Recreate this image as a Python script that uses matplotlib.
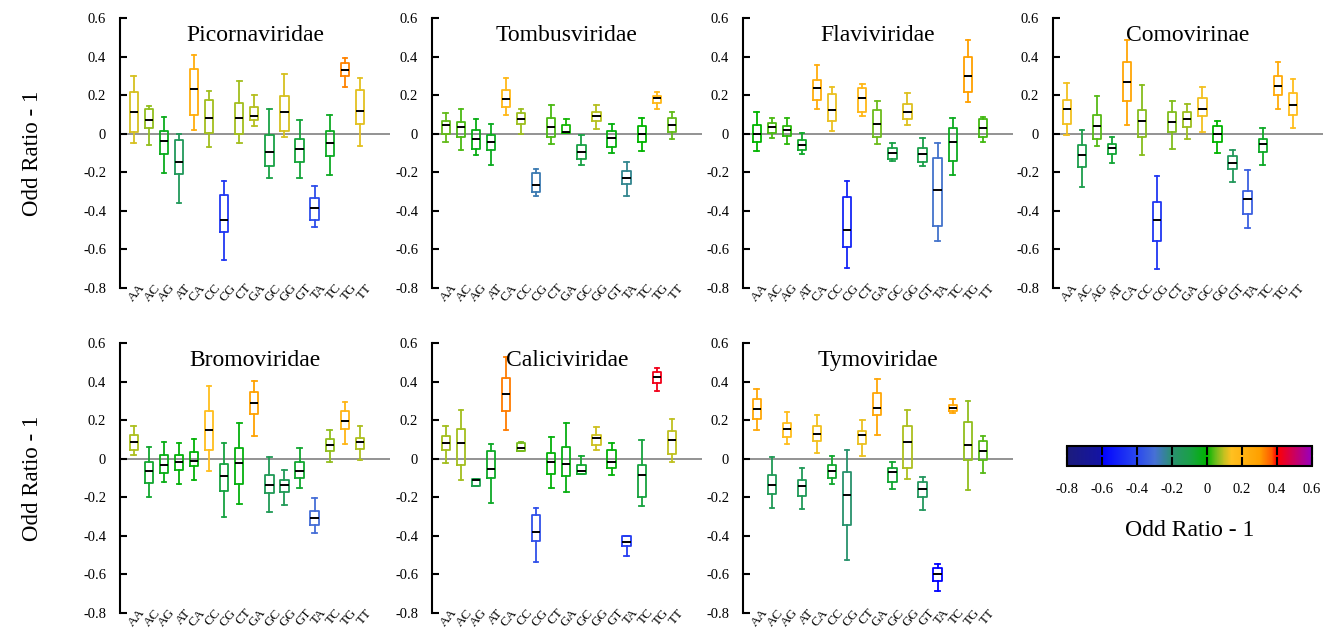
#!/usr/bin/env python3
"""Dinucleotide odd ratio box plots per virus family."""

import matplotlib
matplotlib.use("Agg")
import matplotlib.pyplot as plt
from matplotlib.colors import LinearSegmentedColormap, Normalize
from matplotlib.cm import ScalarMappable
from matplotlib.transforms import ScaledTranslation


DINUC = ["AA", "AC", "AG", "AT", "CA", "CC", "CG", "CT",
         "GA", "GC", "GG", "GT", "TA", "TC", "TG", "TT"]
YTICKS = [-0.8, -0.6, -0.4, -0.2, 0, 0.2, 0.4, 0.6]
YTICKLABELS = ["-0.8", "-0.6", "-0.4", "-0.2", "0", "0.2", "0.4", "0.6"]
CBAR_TICKS = [-0.8, -0.6, -0.4, -0.2, 0, 0.2, 0.4, 0.6]

# (whisker low, q1, median, q3, whisker high) per dinucleotide
PICORNAVIRIDAE = [
    (-0.05, 0.01, 0.11, 0.215, 0.30), (-0.06, 0.03, 0.07, 0.13, 0.145),
    (-0.205, -0.105, -0.04, 0.015, 0.085), (-0.36, -0.21, -0.145, -0.035, 0.0),
    (0.02, 0.095, 0.23, 0.335, 0.41), (-0.07, 0.005, 0.08, 0.175, 0.22),
    (-0.655, -0.51, -0.445, -0.32, -0.245), (-0.05, 0.0, 0.08, 0.16, 0.275),
    (0.04, 0.07, 0.09, 0.14, 0.20), (-0.23, -0.165, -0.095, -0.005, 0.13),
    (-0.015, 0.015, 0.11, 0.195, 0.31), (-0.23, -0.145, -0.08, -0.03, 0.07),
    (-0.485, -0.445, -0.385, -0.335, -0.27), (-0.215, -0.115, -0.05, 0.015, 0.095),
    (0.24, 0.30, 0.33, 0.365, 0.39), (-0.065, 0.05, 0.12, 0.225, 0.29),
]
TOMBUSVIRIDAE = [
    (-0.045, 0.0, 0.045, 0.065, 0.105), (-0.085, -0.015, 0.035, 0.06, 0.13),
    (-0.11, -0.08, -0.03, 0.02, 0.075), (-0.16, -0.085, -0.045, -0.005, 0.05),
    (0.095, 0.14, 0.18, 0.225, 0.29), (0.0, 0.05, 0.075, 0.105, 0.13),
    (-0.325, -0.30, -0.265, -0.205, -0.185), (-0.055, -0.015, 0.035, 0.08, 0.15),
    (0.005, 0.005, 0.01, 0.045, 0.075), (-0.16, -0.13, -0.095, -0.06, -0.005),
    (0.025, 0.065, 0.09, 0.11, 0.15), (-0.10, -0.07, -0.02, 0.015, 0.05),
    (-0.325, -0.26, -0.23, -0.195, -0.145), (-0.09, -0.045, 0.0, 0.04, 0.08),
    (0.13, 0.16, 0.185, 0.195, 0.215), (-0.03, 0.01, 0.045, 0.08, 0.115),
]
FLAVIVIRIDAE = [
    (-0.09, -0.045, 0.0, 0.045, 0.115), (-0.02, 0.005, 0.035, 0.055, 0.08),
    (-0.055, -0.01, 0.02, 0.04, 0.08), (-0.105, -0.085, -0.06, -0.035, 0.005),
    (0.13, 0.175, 0.235, 0.28, 0.355), (0.015, 0.065, 0.125, 0.205, 0.24),
    (-0.695, -0.59, -0.50, -0.33, -0.245), (0.09, 0.115, 0.185, 0.235, 0.26),
    (-0.055, -0.015, 0.05, 0.125, 0.17), (-0.14, -0.13, -0.10, -0.075, -0.05),
    (0.045, 0.075, 0.115, 0.155, 0.21), (-0.17, -0.145, -0.105, -0.075, -0.02),
    (-0.555, -0.48, -0.29, -0.125, -0.05), (-0.215, -0.14, -0.045, 0.03, 0.08),
    (0.165, 0.215, 0.30, 0.40, 0.485), (-0.045, -0.015, 0.03, 0.075, 0.085),
]
COMOVIRINAE = [
    (-0.005, 0.05, 0.13, 0.175, 0.265), (-0.275, -0.175, -0.11, -0.06, 0.02),
    (-0.065, -0.03, 0.04, 0.095, 0.195), (-0.15, -0.105, -0.075, -0.055, -0.015),
    (0.045, 0.17, 0.27, 0.37, 0.485), (-0.11, -0.015, 0.065, 0.125, 0.255),
    (-0.70, -0.555, -0.45, -0.355, -0.22), (-0.08, 0.01, 0.06, 0.115, 0.17),
    (-0.025, 0.035, 0.075, 0.11, 0.155), (0.01, 0.09, 0.13, 0.185, 0.24),
    (-0.10, -0.045, 0.0, 0.04, 0.065), (-0.25, -0.185, -0.15, -0.115, -0.085),
    (-0.49, -0.415, -0.34, -0.295, -0.19), (-0.16, -0.095, -0.055, -0.025, 0.03),
    (0.13, 0.20, 0.245, 0.30, 0.37), (0.03, 0.095, 0.15, 0.21, 0.285),
]
BROMOVIRIDAE = [
    (0.02, 0.045, 0.085, 0.125, 0.17), (-0.20, -0.125, -0.065, -0.015, 0.06),
    (-0.12, -0.075, -0.03, 0.02, 0.085), (-0.13, -0.06, -0.015, 0.02, 0.08),
    (-0.11, -0.04, -0.01, 0.035, 0.10), (-0.065, 0.045, 0.15, 0.245, 0.375),
    (-0.30, -0.165, -0.09, -0.025, 0.08), (-0.235, -0.13, -0.02, 0.055, 0.185),
    (0.12, 0.23, 0.29, 0.345, 0.405), (-0.275, -0.18, -0.135, -0.085, 0.01),
    (-0.24, -0.175, -0.135, -0.11, -0.06), (-0.15, -0.10, -0.065, -0.015, 0.055),
    (-0.385, -0.345, -0.305, -0.27, -0.205), (-0.015, 0.04, 0.07, 0.10, 0.15),
    (0.075, 0.155, 0.195, 0.245, 0.295), (-0.005, 0.05, 0.085, 0.11, 0.17),
]
CALICIVIRIDAE = [
    (-0.02, 0.045, 0.08, 0.12, 0.17), (-0.11, -0.03, 0.08, 0.155, 0.255),
    (-0.14, -0.14, -0.11, -0.105, -0.105), (-0.23, -0.10, -0.055, 0.04, 0.075),
    (0.15, 0.245, 0.335, 0.42, 0.53), (0.04, 0.04, 0.055, 0.08, 0.085),
    (-0.535, -0.425, -0.38, -0.29, -0.255), (-0.15, -0.08, -0.015, 0.03, 0.115),
    (-0.17, -0.09, -0.025, 0.06, 0.185), (-0.08, -0.08, -0.065, -0.03, 0.015),
    (0.045, 0.07, 0.105, 0.125, 0.165), (-0.085, -0.05, -0.015, 0.045, 0.08),
    (-0.505, -0.455, -0.43, -0.40, -0.40), (-0.245, -0.20, -0.085, -0.035, 0.095),
    (0.35, 0.395, 0.425, 0.45, 0.47), (-0.015, 0.025, 0.095, 0.145, 0.205),
]
TYMOVIRIDAE = [
    (0.15, 0.205, 0.26, 0.31, 0.36), (-0.255, -0.185, -0.135, -0.085, 0.01),
    (0.075, 0.115, 0.155, 0.185, 0.24), (-0.26, -0.195, -0.14, -0.11, -0.05),
    (0.03, 0.09, 0.13, 0.17, 0.225), (-0.13, -0.10, -0.065, -0.035, 0.015),
    (-0.525, -0.345, -0.19, -0.07, 0.045), (0.015, 0.075, 0.125, 0.145, 0.20),
    (0.125, 0.225, 0.265, 0.34, 0.415), (-0.155, -0.12, -0.07, -0.05, -0.015),
    (-0.105, -0.05, 0.085, 0.17, 0.255), (-0.265, -0.20, -0.155, -0.12, -0.095),
    (-0.685, -0.635, -0.60, -0.565, -0.545), (0.235, 0.25, 0.265, 0.28, 0.31),
    (-0.16, -0.005, 0.07, 0.19, 0.30), (-0.075, -0.005, 0.04, 0.09, 0.12),
]

FAMILIES = ["Picornaviridae", "Tombusviridae", "Flaviviridae", "Comovirinae",
            "Bromoviridae", "Caliciviridae", "Tymoviridae"]
FAMILY_DATA = [PICORNAVIRIDAE, TOMBUSVIRIDAE, FLAVIVIRIDAE, COMOVIRINAE,
               BROMOVIRIDAE, CALICIVIRIDAE, TYMOVIRIDAE]

VMIN, VMAX = -0.8, 0.6
CMAP_NODES = [
    (-0.8, "#1c1c7c"), (-0.615, "#1414a2"), (-0.605, "#0000ff"),
    (-0.4, "#2a48ee"), (-0.3, "#4670d6"), (-0.2, "#2a9070"),
    (-0.1, "#1aa048"), (0.0, "#00b400"), (0.05, "#6cbc1c"),
    (0.1, "#c8c020"), (0.14, "#ffc020"), (0.2, "#ffb414"),
    (0.3, "#ffa000"), (0.37, "#ff5a00"), (0.4, "#ff0000"),
    (0.6, "#9600c0"),
]

W, H = 1325, 631


def _stijl():
    plt.rcParams.update({
        "font.family": ["Liberation Serif", "DejaVu Serif"],
        "font.size": 10.5,
    })


def _cmap():
    return LinearSegmentedColormap.from_list(
        "oddratio",
        [((v - VMIN) / (VMAX - VMIN), c) for v, c in CMAP_NODES], N=1024)


def _panel(fig, rect, name, data, cmap, norm):
    ax = fig.add_axes(rect)
    pos = list(range(1, len(DINUC) + 1))
    ax.axhline(0, color="#8a8a8a", lw=1.3, zorder=1)

    stats = [dict(whislo=lo, q1=q1, med=med, q3=q3, whishi=hi, fliers=[])
             for lo, q1, med, q3, hi in data]
    art = ax.bxp(stats, positions=pos, widths=0.55, capwidths=0.3,
                 showfliers=False, manage_ticks=False,
                 boxprops=dict(lw=1.3), whiskerprops=dict(lw=1.3),
                 capprops=dict(lw=1.3), medianprops=dict(color="black", lw=1.4))
    for i, s in enumerate(stats):
        c = cmap(norm(s["med"]))
        art["boxes"][i].set_color(c)
        for line in art["whiskers"][2 * i:2 * i + 2] + art["caps"][2 * i:2 * i + 2]:
            line.set_color(c)
        art["medians"][i].set_zorder(4)

    ax.set_xlim(0.09, 18)
    ax.set_ylim(VMIN, VMAX)
    ax.set_yticks(YTICKS)
    ax.set_yticklabels(YTICKLABELS)
    ax.tick_params(axis="y", direction="in", length=5, width=1.5, pad=10,
                   labelsize=10.5)
    ax.set_xticks(pos)
    ax.set_xticklabels(DINUC, rotation=50, rotation_mode="anchor",
                       ha="right", va="center", fontsize=9.5)
    ax.tick_params(axis="x", length=0, pad=0)
    offset = ScaledTranslation(0.095, 0.025, fig.dpi_scale_trans)
    for lbl in ax.get_xticklabels():
        lbl.set_transform(lbl.get_transform() + offset)

    for side in ["top", "right", "bottom"]:
        ax.spines[side].set_visible(False)
    ax.spines["left"].set_linewidth(1.5)

    ax.text(0.5, 0.915, name, transform=ax.transAxes, ha="center",
            va="baseline", fontsize=17)
    return ax


def main():
    _stijl()
    fig = plt.figure(figsize=(W / 100, H / 100), dpi=100)
    cmap = _cmap()
    norm = Normalize(VMIN, VMAX)

    lefts = [120, 432, 743, 1053]
    bottoms = [288, 613]
    pw, ph = 270, 270
    for k, (name, data) in enumerate(zip(FAMILIES, FAMILY_DATA)):
        r, c = divmod(k, 4)
        rect = [lefts[c] / W, 1 - bottoms[r] / H, pw / W, ph / H]
        _panel(fig, rect, name, data, cmap, norm)

    for b in bottoms:
        fig.text(32 / W, 1 - (b - ph / 2) / H, "Odd Ratio - 1", rotation=90,
                 ha="center", va="center", fontsize=16.5)

    # colorbar
    cax = fig.add_axes([1067 / W, 1 - 466 / H, 245 / W, 20 / H])
    cb = fig.colorbar(ScalarMappable(norm=norm, cmap=cmap), cax=cax,
                      orientation="horizontal", ticks=CBAR_TICKS)
    cb.ax.set_xticklabels(YTICKLABELS)
    cb.outline.set_linewidth(1.5)
    cax.tick_params(axis="x", direction="in", length=6.5, width=1.5,
                    top=True, bottom=True, pad=12, labelsize=10.5)
    fig.text((1067 + 245 / 2) / W, 1 - 531 / H, "Odd Ratio - 1",
             ha="center", va="center", fontsize=17)

    fig.savefig("out.png", dpi=100)
    plt.close(fig)


if __name__ == "__main__":
    main()
